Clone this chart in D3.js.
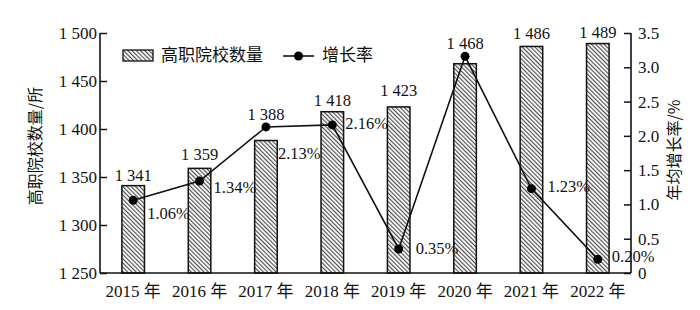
<!DOCTYPE html>
<html>
<head>
<meta charset="utf-8">
<script src="https://cdn.jsdelivr.net/npm/d3@7"></script>
<style>
  body { margin: 0; background: #fff; }
  text { font-family: "Liberation Serif", "Noto Sans CJK SC", serif; fill: #111; }
  .cjk { font-family: "Noto Sans CJK SC", sans-serif; }
</style>
</head>
<body>
<div id="chart"></div>
<script>
const years = ['2015', '2016', '2017', '2018', '2019', '2020', '2021', '2022'];
const schools = [1341, 1359, 1388, 1418, 1423, 1468, 1486, 1489];
const rates = [1.06, 1.34, 2.13, 2.16, 0.35, 3.16, 1.23, 0.20];
const rateShown = [true, true, true, true, true, false, true, true];
const leftTicks = [1250, 1300, 1350, 1400, 1450, 1500];
const rightTicks = [0, 0.5, 1.0, 1.5, 2.0, 2.5, 3.0, 3.5];

// label nudges (layout only)
const barLabelLift = [5, 8, 21, 6, 11, 15, 7, 6];
const rateLabelOffset = [[14, 15], [14, 8], [12, 28], [13, 0], [17, 1], [0, 0], [16, 0], [14, -1]];

const W = 700, H = 310;
const margin = {top: 33, right: 69, bottom: 37, left: 100};
const width = W - margin.left - margin.right;
const height = H - margin.top - margin.bottom;

const svg = d3.select('#chart').append('svg')
  .attr('width', W).attr('height', H);

const defs = svg.append('defs');
const pat = defs.append('pattern')
  .attr('id', 'hatch')
  .attr('patternUnits', 'userSpaceOnUse')
  .attr('width', 3).attr('height', 3)
  .attr('patternTransform', 'rotate(-45)');
pat.append('rect').attr('width', 3).attr('height', 3).attr('fill', '#fff');
pat.append('line')
  .attr('x1', 0.6).attr('y1', 0).attr('x2', 0.6).attr('y2', 3)
  .attr('stroke', '#444').attr('stroke-width', 1.1);

const g = svg.append('g').attr('transform', `translate(${margin.left},${margin.top})`);

const x = d3.scaleBand().domain(years).range([0, width])
  .paddingInner(0.66).paddingOuter(0.33);
const yL = d3.scaleLinear().domain([1250, 1500]).range([height, 0]);
const yR = d3.scaleLinear().domain([0, 3.5]).range([height, 0]);
const cx = d => x(d) + x.bandwidth() / 2;

// bars
g.selectAll('.bar')
  .data(years)
  .enter().append('rect')
  .attr('class', 'bar')
  .attr('x', d => x(d))
  .attr('y', (d, i) => yL(schools[i]))
  .attr('width', x.bandwidth())
  .attr('height', (d, i) => yL(1250) - yL(schools[i]))
  .attr('fill', 'url(#hatch)')
  .attr('stroke', '#111')
  .attr('stroke-width', 1.5);

// bar value labels
g.selectAll('.blabel')
  .data(years)
  .enter().append('text')
  .attr('x', d => cx(d))
  .attr('y', (d, i) => yL(schools[i]) - barLabelLift[i])
  .attr('text-anchor', 'middle')
  .style('font-size', '16.5px')
  .text((d, i) => d3.format(',')(schools[i]).replace(',', ' '));

// axes
const axL = g.append('g')
  .call(d3.axisLeft(yL).tickValues(leftTicks).tickSize(-7).tickPadding(3)
    .tickFormat(d => d3.format(',')(d).replace(',', ' ')));
const axR = g.append('g')
  .attr('transform', `translate(${width},0)`)
  .call(d3.axisRight(yR).tickValues(rightTicks).tickSize(-7).tickPadding(7)
    .tickFormat(d => d === 0 ? '0' : d3.format('.1f')(d)));
const axB = g.append('g')
  .attr('transform', `translate(0,${height})`)
  .call(d3.axisBottom(x).tickSize(0).tickPadding(12).tickFormat(d => d + ' 年'));

[axL, axR, axB].forEach(a => {
  a.select('.domain').attr('stroke', '#111').attr('stroke-width', 1.6);
  a.selectAll('.tick line').attr('stroke', '#111').attr('stroke-width', 1.5);
  a.selectAll('.tick text')
    .style('font-size', '17px')
    .style('font-family', '"Liberation Serif", "Noto Sans CJK SC", serif')
    .attr('fill', '#111');
});
axL.select('.domain').attr('d', `M0,0V${height}`);
axR.select('.domain').attr('d', `M0,0V${height}`);
axB.select('.domain').attr('d', `M0,0H${width}`);

// line
const line = d3.line()
  .x((d, i) => cx(years[i]))
  .y(d => yR(d));
g.append('path')
  .datum(rates)
  .attr('d', line)
  .attr('fill', 'none')
  .attr('stroke', '#111')
  .attr('stroke-width', 1.6);
g.selectAll('.dot')
  .data(rates)
  .enter().append('circle')
  .attr('cx', (d, i) => cx(years[i]))
  .attr('cy', d => yR(d))
  .attr('r', 4.5)
  .attr('fill', '#000');

g.selectAll('.rlabel')
  .data(d3.range(rates.length).filter(i => rateShown[i]))
  .enter().append('text')
  .attr('x', i => cx(years[i]) + rateLabelOffset[i][0])
  .attr('y', i => yR(rates[i]) + rateLabelOffset[i][1])
  .attr('dominant-baseline', 'middle')
  .style('font-size', '16.5px')
  .text(i => d3.format('.2f')(rates[i]) + '%');

// axis titles
svg.append('text')
  .attr('class', 'cjk')
  .attr('transform', 'translate(37,146) rotate(-90)')
  .attr('text-anchor', 'middle')
  .attr('dominant-baseline', 'middle')
  .style('font-size', '16px')
  .text('高职院校数量/所');
svg.append('text')
  .attr('class', 'cjk')
  .attr('transform', 'translate(676,150) rotate(-90)')
  .attr('text-anchor', 'middle')
  .attr('dominant-baseline', 'middle')
  .style('font-size', '16px')
  .text('年均增长率/%');

// legend
const leg = svg.append('g');
leg.append('rect')
  .attr('x', 123).attr('y', 50).attr('width', 30).attr('height', 11)
  .attr('fill', 'url(#hatch)').attr('stroke', '#111').attr('stroke-width', 1.3);
leg.append('text').attr('class', 'cjk')
  .attr('x', 161).attr('y', 56).attr('dominant-baseline', 'middle')
  .style('font-size', '17px').text('高职院校数量');
leg.append('line')
  .attr('x1', 283).attr('x2', 314).attr('y1', 56).attr('y2', 56)
  .attr('stroke', '#111').attr('stroke-width', 1.6);
leg.append('circle').attr('cx', 298.5).attr('cy', 56).attr('r', 4.5).attr('fill', '#000');
leg.append('text').attr('class', 'cjk')
  .attr('x', 322).attr('y', 56).attr('dominant-baseline', 'middle')
  .style('font-size', '17px').text('增长率');
</script>
</body>
</html>
